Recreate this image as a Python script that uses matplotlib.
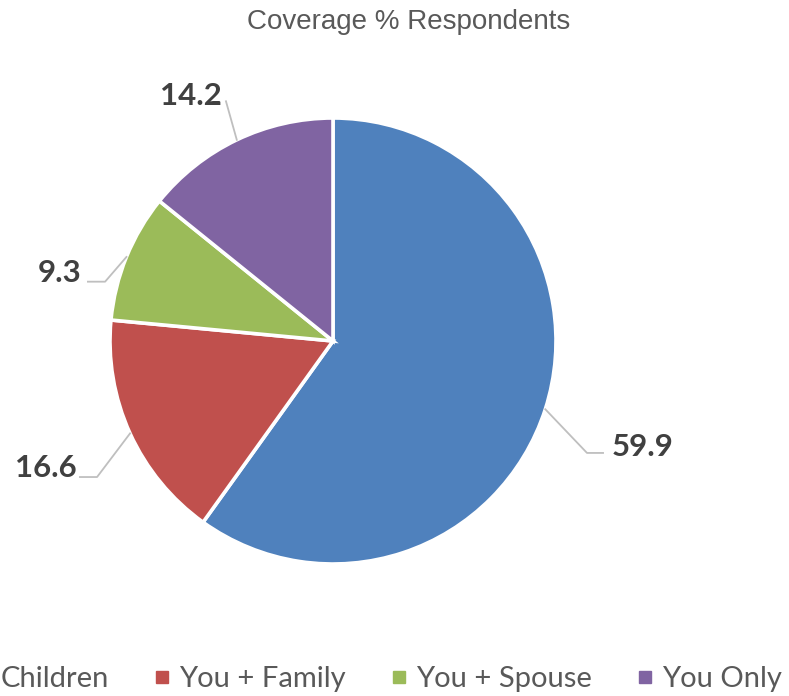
import matplotlib.pyplot as plt
from matplotlib.lines import Line2D
import numpy as np

# coverage shares, in percent
categories = ['Children', 'You + Family', 'You + Spouse', 'You Only']
shares = [59.9, 16.6, 9.3, 14.2]
colors = ['#4F81BD', '#C0504D', '#9BBB59', '#8064A2']

# leader elbow / label anchor offsets (in pie radii), one per slice
elbows = [(1.139, -0.502), (-1.058, -0.610), (-1.022, 0.266), None]
label_pos = [(1.25, -0.475), (-1.148, -0.57), (-1.126, 0.305), (-0.50, 1.10)]

W, H = 789, 696
fig = plt.figure(figsize=(W / 100, H / 100), dpi=100)

cx, cy, r = 333, 341, 223
ax = fig.add_axes([(cx - r) / W, (H - cy - r) / H, 2 * r / W, 2 * r / H])

wedges, _ = ax.pie(shares, colors=colors, startangle=90, counterclock=False,
                   radius=1, wedgeprops=dict(edgecolor='white', linewidth=2.6))
# pie() widens the limits, pull them back to the unit circle
ax.set_xlim(-1, 1)
ax.set_ylim(-1, 1)
ax.set_aspect('equal')
ax.axis('off')

for i, w in enumerate(wedges):
    mid = np.deg2rad((w.theta1 + w.theta2) / 2)
    sx, sy = np.cos(mid), np.sin(mid)
    lx, ly = label_pos[i]
    if elbows[i] is not None:
        ex, ey = elbows[i]
        tail = ex + (0.072 if ex > 0 else -0.077)
        ax.plot([sx, ex, tail], [sy, ey, ey], color='#BFBFBF', lw=1.3, clip_on=False)
    else:
        ax.plot([sx, -0.48], [sy, 1.075], color='#BFBFBF', lw=1.3, clip_on=False)
    ha = 'left' if lx > 0 else 'right'
    ax.text(lx, ly, f'{shares[i]:.1f}', ha=ha, va='center', fontsize=22.5,
            fontweight='bold', family='Lato', color='#404040', clip_on=False)

fig.text(409 / W, 1 - 22 / H, 'Coverage % Respondents', ha='center', va='center',
         fontsize=20, family='Liberation Sans', color='#595959')

# legend runs off the left edge, so anchor it by its left side
handles = [Line2D([], [], marker='s', linestyle='none', markersize=8,
                  markerfacecolor=c, markeredgecolor=c) for c in colors]
fig.legend(handles, categories, loc='center left', bbox_to_anchor=(-0.046, 1 - 679 / H),
           ncol=4, frameon=False, borderaxespad=0, handlelength=0.6, handletextpad=0.28,
           columnspacing=1.52, prop=dict(family='Lato', size=21), labelcolor='#595959')

fig.savefig('out.png', dpi=100)
